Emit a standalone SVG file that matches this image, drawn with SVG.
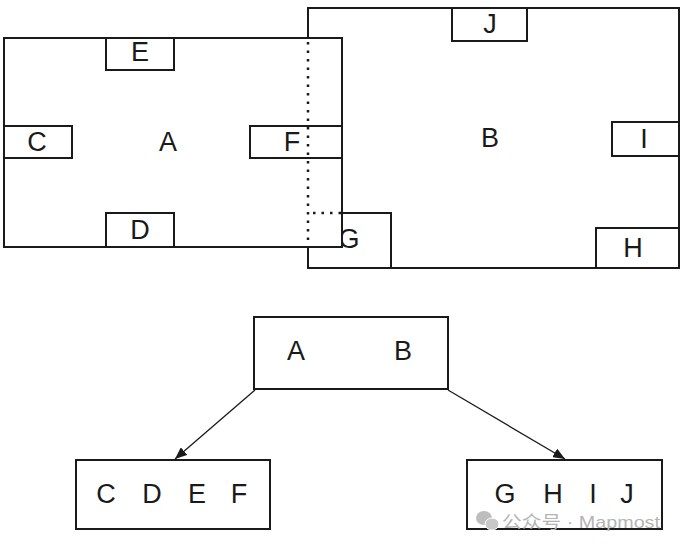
<svg xmlns="http://www.w3.org/2000/svg" width="682" height="550" viewBox="0 0 682 550">
<style>
.box{fill:#fff;stroke:#1a1a1a;stroke-width:2}
.sub{fill:none;stroke:#1a1a1a;stroke-width:2}
.dot{fill:none;stroke:#1a1a1a;stroke-width:2.5;stroke-dasharray:2.5 6}
.lbl{font-family:"Liberation Sans",Arial,sans-serif;font-size:27px;fill:#1a1a1a;text-anchor:middle}
.conn{stroke:#1a1a1a;stroke-width:1.3;fill:none}
.wm{font-family:"Liberation Sans","Noto Sans CJK SC",sans-serif;font-size:17px;fill:#b4b4b4}
</style>
<defs>
<marker id="arr" viewBox="0 0 12 10" refX="12" refY="5" markerWidth="12" markerHeight="10" markerUnits="userSpaceOnUse" orient="auto">
<path d="M0,0 L12,5 L0,10 Z" fill="#1a1a1a"/>
</marker>
</defs>
<g id="nodeB">
<rect class="box" x="308" y="8" width="371" height="260"/>
<text class="lbl" x="490" y="147">B</text>
<g id="nodeJ"><rect class="sub" x="452" y="8" width="75" height="33"/><text class="lbl" x="490" y="33">J</text></g>
<g id="nodeI"><rect class="sub" x="612" y="122" width="67" height="34"/><text class="lbl" x="644" y="148">I</text></g>
<g id="nodeH"><rect class="sub" x="596" y="228" width="83" height="40"/><text class="lbl" x="633" y="257">H</text></g>
<g id="nodeG"><rect class="sub" x="308" y="213" width="83" height="55"/><text class="lbl" x="349" y="248">G</text></g>
</g>
<g id="nodeA">
<rect class="box" x="4" y="38" width="338" height="209"/>
<text class="lbl" x="168" y="151">A</text>
<g id="nodeE"><rect class="sub" x="106" y="38" width="68" height="32"/><text class="lbl" x="140" y="61">E</text></g>
<g id="nodeC"><rect class="sub" x="4" y="126" width="68" height="32"/><text class="lbl" x="37" y="151">C</text></g>
<g id="nodeF"><rect class="sub" x="250" y="126" width="92" height="32"/><text class="lbl" x="292" y="151">F</text></g>
<g id="nodeD"><rect class="sub" x="106" y="213" width="68" height="34"/><text class="lbl" x="140" y="239">D</text></g>
</g>
<g id="hidden">
<line class="dot" x1="308" y1="42" x2="308" y2="247"/>
<line class="dot" x1="313" y1="213" x2="342" y2="213"/>
</g>
<g id="nodeAB">
<rect class="box" x="254" y="317" width="194" height="72"/>
<text class="lbl" x="296" y="360">A</text>
<text class="lbl" x="403" y="360">B</text>
</g>
<g id="nodeCDEF">
<rect class="box" x="76" y="460" width="194" height="69"/>
<text class="lbl" x="106" y="503">C</text>
<text class="lbl" x="152" y="503">D</text>
<text class="lbl" x="197" y="503">E</text>
<text class="lbl" x="239" y="503">F</text>
</g>
<g id="nodeGHIJ">
<rect class="box" x="467" y="460" width="195" height="69"/>
<text class="lbl" x="505" y="503">G</text>
<text class="lbl" x="553" y="503">H</text>
<text class="lbl" x="593" y="503">I</text>
<text class="lbl" x="627" y="503">J</text>
</g>
<g id="connectors">
<line class="conn" x1="255" y1="390" x2="175" y2="459" marker-end="url(#arr)"/>
<line class="conn" x1="448" y1="390" x2="565" y2="459" marker-end="url(#arr)"/>
</g>
<g id="watermark">
<ellipse cx="484" cy="518" rx="8" ry="7" fill="#bdbdbd"/>
<ellipse cx="492" cy="524" rx="7" ry="6" fill="#c8c8c8" stroke="#fff" stroke-width="1"/>
<text class="wm" x="502" y="528" textLength="158" lengthAdjust="spacingAndGlyphs">公众号 · Mapmost</text>
</g>
</svg>
